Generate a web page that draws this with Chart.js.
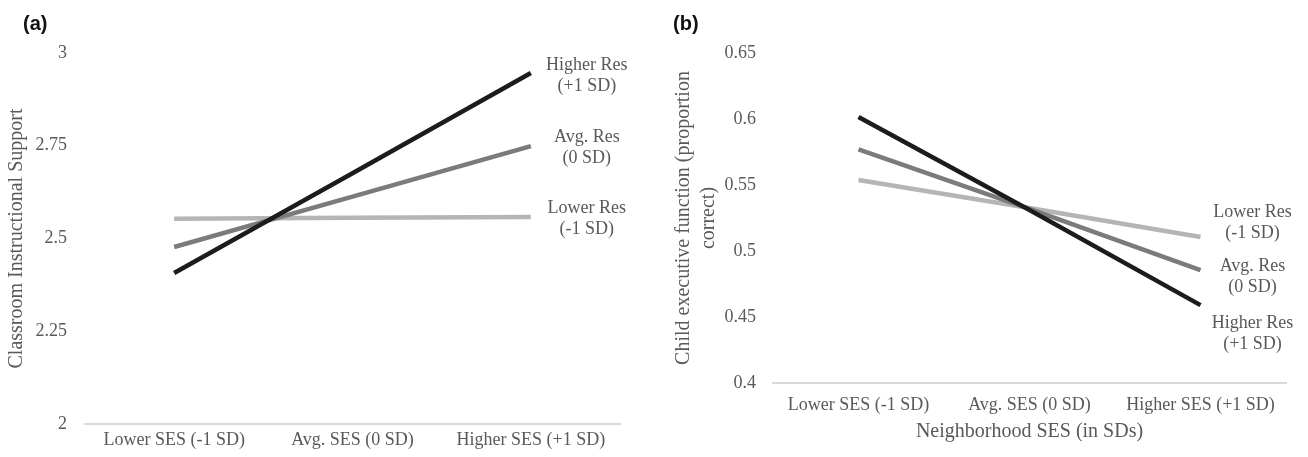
<!DOCTYPE html>
<html>
<head>
<meta charset="utf-8">
<script src="https://cdn.jsdelivr.net/npm/chart.js@4.4.1/dist/chart.umd.min.js"></script>
<style>
  html, body { margin: 0; padding: 0; background: #fff; }
  .wrap { position: absolute; top: 0; }
</style>
</head>
<body>
<div class="wrap" style="left:0"><canvas id="chartA" width="650" height="457"></canvas></div>
<div class="wrap" style="left:650px"><canvas id="chartB" width="658" height="457"></canvas></div>
<script>
// categories shared by both panels
const sesLabels = ['Lower SES (-1 SD)', 'Avg. SES (0 SD)', 'Higher SES (+1 SD)'];
const resNames = ['Higher Res', 'Avg. Res', 'Lower Res'];
const resSD = ['(+1 SD)', '(0 SD)', '(-1 SD)'];

// (a) classroom instructional support
const supportHigher = [2.407, 2.676, 2.946];
const supportAvg = [2.477, 2.613, 2.749];
const supportLower = [2.553, 2.556, 2.558];
const supportTicks = [2, 2.25, 2.5, 2.75, 3];

// (b) child executive function
const efHigher = [0.6015, 0.531, 0.459];
const efAvg = [0.577, 0.532, 0.4856];
const efLower = [0.5538, 0.5326, 0.5106];
const efTicks = [0.4, 0.45, 0.5, 0.55, 0.6, 0.65];

const lineColors = ['#1c1c1c', '#7b7b7b', '#b5b5b5'];
const textGray = '#595959';
const serif = '"Liberation Serif", "Times New Roman", serif';

// writes the series name next to the last point of each line, plus the panel tag
const endLabelPlugin = {
  id: 'endLabels',
  afterDatasetsDraw(chart, args, opts) {
    const ctx = chart.ctx;
    ctx.save();
    ctx.fillStyle = textGray;
    ctx.font = '18px ' + serif;
    ctx.textAlign = 'center';
    ctx.textBaseline = 'middle';
    chart.data.datasets.forEach((ds, i) => {
      const pts = chart.getDatasetMeta(i).data;
      const last = pts[pts.length - 1];
      const x = last.x + opts.dx;
      const y = last.y + opts.dy[i];
      ctx.fillText(resNames[i], x, y - 10.5);
      ctx.fillText(resSD[i], x, y + 10.5);
    });
    ctx.fillStyle = '#111';
    ctx.font = 'bold 20px "Liberation Sans", Arial, sans-serif';
    ctx.textAlign = 'left';
    ctx.fillText(opts.tag, 23, 24);
    ctx.restore();
  }
};

function makeDatasets(series) {
  return series.map((vals, i) => ({
    label: resNames[i],
    data: vals,
    borderColor: lineColors[i],
    borderWidth: 4.5,
    borderCapStyle: 'butt',
    pointRadius: 0,
    tension: 0,
    fill: false
  }));
}

function drawPanel(canvasId, series, ticks, cfg) {
  const ctx = document.getElementById(canvasId).getContext('2d');
  new Chart(ctx, {
    type: 'line',
    data: { labels: sesLabels, datasets: makeDatasets(series) },
    options: {
      responsive: false,
      animation: false,
      layout: { padding: { top: cfg.top, right: cfg.right, left: 0, bottom: 0 } },
      plugins: {
        legend: { display: false },
        tooltip: { enabled: false },
        endLabels: cfg.labels
      },
      scales: {
        x: {
          offset: true,
          grid: { display: false, drawTicks: false },
          border: { display: true, color: '#d9d9d9', width: 2 },
          ticks: { color: textGray, font: { family: serif, size: 18 }, padding: cfg.xPad, maxRotation: 0, autoSkip: false },
          title: cfg.xTitle,
          afterFit: s => { s.height = cfg.xHeight; }
        },
        y: {
          min: ticks[0],
          max: ticks[ticks.length - 1],
          afterBuildTicks: s => { s.ticks = ticks.map(v => ({ value: v })); },
          grid: { display: false, drawTicks: false },
          border: { display: false },
          ticks: {
            color: textGray, font: { family: serif, size: 18 }, padding: cfg.yPad,
            callback: v => String(v)
          },
          title: cfg.yTitle,
          afterFit: s => { s.width = cfg.yWidth; }
        }
      }
    },
    plugins: [endLabelPlugin]
  });
}

drawPanel('chartA', [supportHigher, supportAvg, supportLower], supportTicks, {
  top: 53, right: 30, xPad: 5, xHeight: 33, yPad: 18, yWidth: 85,
  xTitle: { display: false },
  yTitle: {
    display: true, text: 'Classroom Instructional Support', color: textGray,
    font: { family: serif, size: 20, lineHeight: 1.2 }, padding: { top: 5, bottom: 0 }
  },
  labels: { dx: 56, dy: [3, 2, 2], tag: '(a)' }
});

drawPanel('chartB', [efHigher, efAvg, efLower], efTicks, {
  top: 53, right: 22, xPad: 11, xHeight: 74, yPad: 17, yWidth: 123,
  xTitle: {
    display: true, text: 'Neighborhood SES (in SDs)', color: textGray,
    font: { family: serif, size: 20, lineHeight: 1.2 }, padding: { top: 0, bottom: 13 }
  },
  yTitle: {
    display: true, text: ['Child executive function (proportion', 'correct)'], color: textGray,
    font: { family: serif, size: 20, lineHeight: 1.25 }, padding: { top: 21, bottom: 0 }
  },
  labels: { dx: 52, dy: [29, 7, -14], tag: '(b)' }
});
</script>
</body>
</html>
